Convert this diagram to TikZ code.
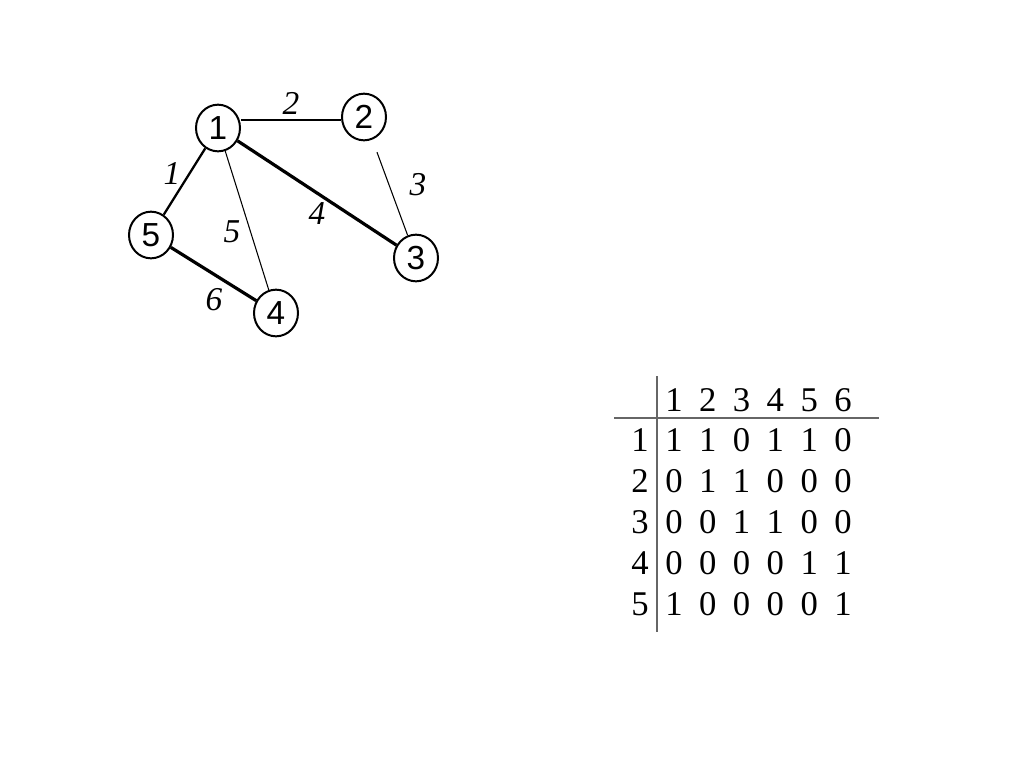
\documentclass[tikz,border=0pt]{standalone}
\usepackage{fontspec}
\setmainfont{Liberation Serif}
\newfontfamily\nodefont{Liberation Sans}
\usetikzlibrary{shapes.geometric}
\begin{document}
\begin{tikzpicture}[x=0.75pt,y=-0.75pt,
  vtx/.style={draw,ellipse,line width=1.5pt,inner sep=0pt,minimum width=33pt,minimum height=35pt,font=\nodefont\fontsize{25}{27}\selectfont},
  elab/.style={font=\itshape\fontsize{25}{27}\selectfont,inner sep=0pt},
  cell/.style={font=\fontsize{26}{28}\selectfont,inner sep=0pt,anchor=center},
  thickedge/.style={line width=2.4pt},
  medge/.style={line width=1.7pt},
  thinedge/.style={line width=0.8pt},
  rule/.style={draw=black!60,line width=0.9pt}]
\useasboundingbox (0,0) rectangle (1024,768);
% vertices
\node[vtx] (n1) at (218,128) {1};
\node[vtx] (n2) at (364,117) {2};
\node[vtx] (n3) at (416,258) {3};
\node[vtx] (n4) at (276,313) {4};
\node[vtx] (n5) at (151,235) {5};
% edges
\draw[medge] (n1.east) ++(0,-8) coordinate (c12) -- (c12 -| n2.west);
\draw[medge] (n1) -- (n5);
\draw[thinedge] (n1) -- (n4);
\draw[thickedge] (n1) -- (n3);
\draw[thinedge,shorten <=10pt] (n2) -- (n3);
\draw[thickedge] (n5) -- (n4);
% edge labels
\node[elab] (l2) at (291,103) {2};
\node[elab] (l1) at (172,173) {1};
\node[elab] (l3) at (418,185) {3};
\node[elab] (l4) at (317,214) {4};
\node[elab] (l5) at (232,232) {5};
\node[elab] (l6) at (214,300) {6};
% table
\coordinate (vt) at (657,376);
\coordinate (vb) at (657,632);
\coordinate (hl) at (614,418);
\coordinate (hr) at (879,418);
\draw[rule] (vt) -- (vb);
\draw[rule] (hl) -- (hr);
\foreach \j [count=\c from 0] in {1,2,3,4,5,6}
  \node[cell] (h\j) at (674+33.8*\c,400) {\j};
\foreach \i [count=\r from 0] in {1,2,3,4,5}
  \node[cell] (r\i) at (640,440+41*\r) {\i};
\foreach \row [count=\r from 0] in {{1,1,0,1,1,0},{0,1,1,0,0,0},{0,0,1,1,0,0},{0,0,0,0,1,1},{1,0,0,0,0,1}}
  \foreach \v [count=\c from 0] in \row
    \node[cell] (m\r-\c) at (674+33.8*\c,440+41*\r) {\v};
\end{tikzpicture}
\end{document}
